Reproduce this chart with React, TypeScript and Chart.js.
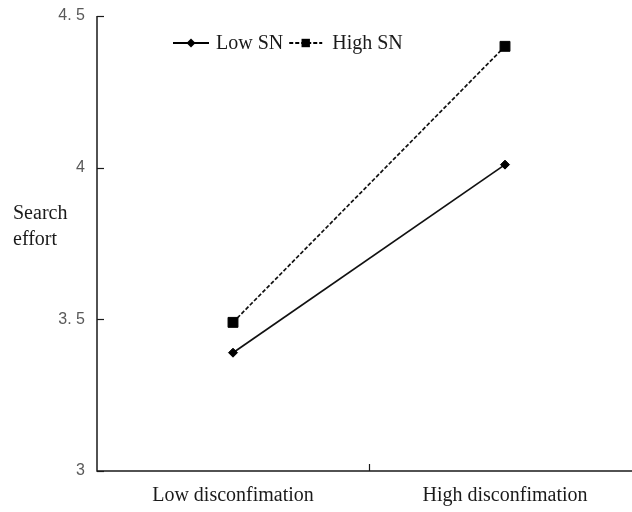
import React, { useEffect, useRef } from "react";
import { Chart, registerables } from "chart.js";

Chart.register(...registerables);

const categories = ["Low disconfimation", "High disconfimation"];
const seriesNames = ["Low SN", "High SN"];
const lowSN = [3.39, 4.01];
const highSN = [3.49, 4.4];
const yTickValues = [3, 3.5, 4, 4.5];
const yTickLabels = ["3", "3. 5", "4", "4. 5"];
const yAxisTitle = ["Search", "effort"];

const CANVAS_W = 660;
const CANVAS_H = 512;
const PLOT_LEFT = 97;
const PLOT_RIGHT = 641;
const PLOT_TOP = 16;
const PLOT_BOTTOM = 471;

const SERIF = '"Liberation Serif", "Times New Roman", serif';
const SANS = '"Liberation Sans", Arial, sans-serif';

function drawMarker(ctx: CanvasRenderingContext2D, style: string, x: number, y: number, r: number) {
  ctx.beginPath();
  if (style === "rectRot") {
    ctx.moveTo(x - r, y);
    ctx.lineTo(x, y - r);
    ctx.lineTo(x + r, y);
    ctx.lineTo(x, y + r);
    ctx.closePath();
  } else {
    ctx.rect(x - r, y - r, 2 * r, 2 * r);
  }
  ctx.fill();
}

const decorPlugin = {
  id: "decor",
  afterDraw(chart: any) {
    const ctx: CanvasRenderingContext2D = chart.ctx;
    const { left, right, bottom } = chart.chartArea;
    const xs = chart.scales.x;
    const ys = chart.scales.y;
    ctx.save();
    ctx.strokeStyle = "#1a1a1a";
    ctx.lineWidth = 1.5;
    // axis lines
    ctx.beginPath();
    ctx.moveTo(left, ys.getPixelForValue(yTickValues[yTickValues.length - 1]));
    ctx.lineTo(left, bottom);
    ctx.lineTo(right, bottom);
    ctx.stroke();
    // inner y ticks
    ctx.lineWidth = 1.2;
    yTickValues.forEach((v) => {
      const py = Math.round(ys.getPixelForValue(v)) + 0.5;
      ctx.beginPath();
      ctx.moveTo(left, py);
      ctx.lineTo(left + 7, py);
      ctx.stroke();
    });
    // inner x tick between categories
    for (let i = 0; i < categories.length - 1; i++) {
      const px = Math.round((xs.getPixelForValue(i) + xs.getPixelForValue(i + 1)) / 2) + 0.5;
      ctx.beginPath();
      ctx.moveTo(px, bottom);
      ctx.lineTo(px, bottom - 7);
      ctx.stroke();
    }
    // y axis title (horizontal, two lines)
    ctx.fillStyle = "#1a1a1a";
    ctx.font = `20px ${SERIF}`;
    ctx.textAlign = "left";
    ctx.textBaseline = "alphabetic";
    yAxisTitle.forEach((t, i) => ctx.fillText(t, 13, 219 + i * 26));

    // custom legend: line sample + marker + text
    const legendY = 43;
    let lx = 173;
    chart.data.datasets.forEach((ds: any, i: number) => {
      const segW = i === 0 ? 36 : 33;
      ctx.strokeStyle = "#000";
      ctx.lineWidth = 2;
      ctx.setLineDash(ds.borderDash || []);
      ctx.beginPath();
      ctx.moveTo(lx, legendY);
      ctx.lineTo(lx + segW, legendY);
      ctx.stroke();
      ctx.setLineDash([]);
      ctx.fillStyle = "#000";
      drawMarker(ctx, ds.pointStyle, lx + segW / 2, legendY, i === 0 ? 4.5 : 4.2);
      ctx.fillStyle = "#1a1a1a";
      ctx.font = `20px ${SERIF}`;
      ctx.textBaseline = "middle";
      const tx = lx + segW + (i === 0 ? 7 : 10);
      ctx.fillText(ds.label, tx, legendY + 1);
      lx = tx + ctx.measureText(ds.label).width + 6;
    });
    ctx.restore();
  },
};

export default function App() {
  const ref = useRef<HTMLCanvasElement | null>(null);

  useEffect(() => {
    if (!ref.current) return;
    const chart = new Chart(ref.current, {
      type: "line",
      data: {
        labels: categories,
        datasets: [
          {
            label: seriesNames[0],
            data: lowSN,
            borderColor: "#111",
            backgroundColor: "#000",
            borderWidth: 1.7,
            pointStyle: "rectRot",
            pointRadius: 4.5,
            pointBorderWidth: 1,
            pointBorderColor: "#000",
            pointBackgroundColor: "#000",
            tension: 0,
            clip: false as any,
          },
          {
            label: seriesNames[1],
            data: highSN,
            borderColor: "#111",
            backgroundColor: "#000",
            borderWidth: 1.7,
            borderDash: [4, 2],
            pointStyle: "rect",
            pointRadius: 7,
            pointBorderWidth: 1,
            pointBorderColor: "#000",
            pointBackgroundColor: "#000",
            tension: 0,
            clip: false as any,
          },
        ],
      },
      options: {
        responsive: false,
        animation: false,
        devicePixelRatio: 1,
        layout: {
          padding: { left: 0, top: PLOT_TOP, right: CANVAS_W - PLOT_RIGHT, bottom: 0 },
        },
        plugins: {
          legend: { display: false },
          tooltip: { enabled: false },
        },
        scales: {
          x: {
            type: "category",
            offset: true,
            grid: { display: false, drawTicks: false },
            border: { display: false },
            ticks: {
              color: "#1a1a1a",
              font: { family: SERIF, size: 20 },
              padding: 13,
              maxRotation: 0,
              autoSkip: false,
            },
            afterFit: (s: any) => {
              s.height = CANVAS_H - PLOT_BOTTOM;
              s.paddingLeft = 0;
              s.paddingRight = 0;
            },
          },
          y: {
            type: "linear",
            min: yTickValues[0],
            max: yTickValues[yTickValues.length - 1],
            grid: { display: false, drawTicks: false },
            border: { display: false },
            afterBuildTicks: (s: any) => {
              s.ticks = yTickValues.map((v) => ({ value: v }));
            },
            ticks: {
              color: "#595959",
              font: { family: SANS, size: 16 },
              padding: 12,
              callback: (v: any) => {
                const idx = yTickValues.indexOf(Number(v));
                return idx >= 0 ? yTickLabels[idx] : "";
              },
            },
            afterFit: (s: any) => {
              s.width = PLOT_LEFT;
              s.paddingTop = 0;
              s.paddingBottom = 0;
            },
          },
        },
      },
      plugins: [decorPlugin],
    });
    return () => chart.destroy();
  }, []);

  return (
    <div
      style={{
        position: "fixed",
        left: 0,
        top: 0,
        width: 632,
        height: 512,
        overflow: "hidden",
        background: "#fff",
      }}
    >
      <canvas
        ref={ref}
        width={CANVAS_W}
        height={CANVAS_H}
        style={{ display: "block", width: CANVAS_W, height: CANVAS_H }}
      />
    </div>
  );
}
